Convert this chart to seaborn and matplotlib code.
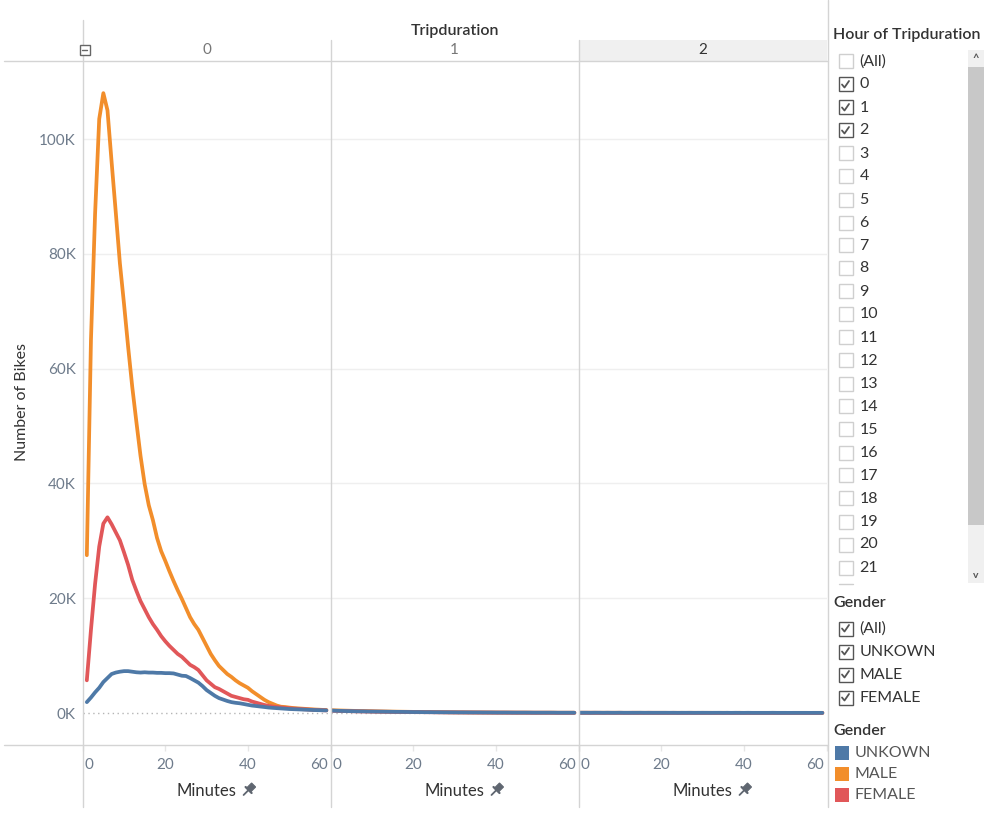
import matplotlib
matplotlib.use("Agg")
import matplotlib.pyplot as plt
import matplotlib.transforms as mtrans
from matplotlib.patches import Rectangle, Polygon
from matplotlib.lines import Line2D
import seaborn as sns
import pandas as pd

# ---------------- data (thousands of bikes) ----------------
hours = [0, 1, 2]
genders = ["UNKOWN", "MALE", "FEMALE"]
minutes_h0 = list(range(1, 60))
minutes_h12 = list(range(0, 60))

male_h0 = [27.5, 65, 87, 103.5, 108, 105, 96, 87.3, 78.4, 71.3, 63.8, 56.8, 50.7, 44.8, 39.9,
           36.2, 33.6, 30.5, 28.2, 26.5, 24.7, 23, 21.4, 19.9, 18.3, 16.7, 15.5, 14.5, 13.1, 11.7,
           10.3, 9.2, 8.2, 7.5, 6.8, 6.3, 5.7, 5.2, 4.8, 4.4, 3.8, 3.3, 2.8, 2.3, 1.9, 1.6, 1.3,
           1.1, 1.05, 0.95, 0.87, 0.82, 0.77, 0.72, 0.66, 0.62, 0.59, 0.55, 0.52]
female_h0 = [5.7, 14.5, 22.5, 29, 33, 34.1, 32.9, 31.5, 30.1, 28, 25.8, 23.2, 21.3, 19.5, 18.1,
             16.7, 15.5, 14.5, 13.4, 12.5, 11.7, 11, 10.3, 9.8, 9.1, 8.4, 8, 7.5, 6.6, 5.7, 5.1,
             4.5, 4.2, 3.8, 3.4, 3, 2.8, 2.6, 2.4, 2.3, 2, 1.8, 1.6, 1.4, 1.25, 1.13, 1.05, 0.98,
             0.9, 0.84, 0.78, 0.73, 0.68, 0.64, 0.6, 0.56, 0.52, 0.49, 0.46]
unknown_h0 = [1.9, 2.7, 3.6, 4.4, 5.4, 6.1, 6.8, 7.05, 7.2, 7.3, 7.3, 7.2, 7.1, 7.05, 7.1, 7.05,
              7.05, 7, 7, 6.95, 6.95, 6.9, 6.7, 6.5, 6.45, 6.1, 5.7, 5.3, 4.7, 4, 3.5, 3, 2.6,
              2.35, 2.1, 1.9, 1.78, 1.7, 1.57, 1.43, 1.3, 1.22, 1.13, 1.05, 0.96, 0.9, 0.85, 0.8,
              0.75, 0.7, 0.67, 0.64, 0.61, 0.58, 0.55, 0.52, 0.5, 0.48, 0.46]

male_h1 = [0.50, 0.47, 0.45, 0.43, 0.41, 0.39, 0.37, 0.35, 0.34, 0.32, 0.31, 0.29, 0.28, 0.27, 0.26,
           0.25, 0.24, 0.23, 0.22, 0.21, 0.20, 0.19, 0.18, 0.17, 0.17, 0.16, 0.15, 0.15, 0.14, 0.13,
           0.13, 0.12, 0.12, 0.11, 0.11, 0.10, 0.10, 0.10, 0.09, 0.09, 0.09, 0.08, 0.08, 0.08, 0.08,
           0.07, 0.07, 0.07, 0.07, 0.06, 0.06, 0.06, 0.06, 0.06, 0.06, 0.05, 0.05, 0.05, 0.05, 0.05]
female_h1 = [0.40, 0.38, 0.36, 0.34, 0.33, 0.31, 0.30, 0.28, 0.27, 0.26, 0.25, 0.24, 0.23, 0.22, 0.21,
             0.20, 0.19, 0.18, 0.18, 0.17, 0.16, 0.15, 0.15, 0.14, 0.14, 0.13, 0.12, 0.12, 0.11, 0.11,
             0.10, 0.10, 0.10, 0.09, 0.09, 0.09, 0.08, 0.08, 0.08, 0.07, 0.07, 0.07, 0.07, 0.06, 0.06,
             0.06, 0.06, 0.06, 0.05, 0.05, 0.05, 0.05, 0.05, 0.05, 0.04, 0.04, 0.04, 0.04, 0.04, 0.04]
unknown_h1 = [0.42, 0.40, 0.38, 0.36, 0.34, 0.33, 0.31, 0.30, 0.29, 0.27, 0.26, 0.25, 0.24, 0.23, 0.22,
              0.21, 0.20, 0.20, 0.19, 0.18, 0.17, 0.17, 0.16, 0.15, 0.15, 0.14, 0.14, 0.13, 0.13, 0.12,
              0.12, 0.11, 0.11, 0.11, 0.10, 0.10, 0.10, 0.09, 0.09, 0.09, 0.08, 0.08, 0.08, 0.08, 0.07,
              0.07, 0.07, 0.07, 0.07, 0.06, 0.06, 0.06, 0.06, 0.06, 0.06, 0.05, 0.05, 0.05, 0.05, 0.05]

male_h2 = [0.05, 0.05, 0.05, 0.05, 0.05, 0.04, 0.05, 0.04, 0.04, 0.05, 0.04, 0.04, 0.04, 0.04, 0.05,
           0.04, 0.04, 0.04, 0.04, 0.04, 0.04, 0.04, 0.03, 0.04, 0.04, 0.04, 0.03, 0.04, 0.04, 0.03,
           0.04, 0.03, 0.04, 0.03, 0.03, 0.04, 0.03, 0.03, 0.03, 0.04, 0.03, 0.03, 0.03, 0.03, 0.03,
           0.03, 0.03, 0.03, 0.03, 0.03, 0.03, 0.02, 0.03, 0.03, 0.03, 0.03, 0.02, 0.03, 0.03, 0.03]
female_h2 = [0.04, 0.04, 0.04, 0.04, 0.04, 0.04, 0.03, 0.04, 0.04, 0.03, 0.04, 0.03, 0.03, 0.04, 0.03,
             0.03, 0.03, 0.04, 0.03, 0.03, 0.03, 0.03, 0.03, 0.03, 0.03, 0.02, 0.03, 0.03, 0.03, 0.03,
             0.02, 0.03, 0.03, 0.02, 0.03, 0.02, 0.03, 0.02, 0.02, 0.03, 0.02, 0.02, 0.02, 0.02, 0.02,
             0.02, 0.02, 0.02, 0.02, 0.02, 0.02, 0.02, 0.02, 0.02, 0.02, 0.02, 0.02, 0.02, 0.02, 0.02]
unknown_h2 = [0.05, 0.05, 0.05, 0.04, 0.05, 0.05, 0.04, 0.05, 0.04, 0.04, 0.05, 0.04, 0.04, 0.04, 0.04,
              0.05, 0.04, 0.04, 0.04, 0.04, 0.04, 0.04, 0.04, 0.04, 0.03, 0.04, 0.04, 0.04, 0.03, 0.04,
              0.04, 0.04, 0.03, 0.04, 0.04, 0.03, 0.04, 0.03, 0.04, 0.03, 0.03, 0.04, 0.03, 0.03, 0.03,
              0.03, 0.03, 0.04, 0.03, 0.03, 0.03, 0.03, 0.03, 0.03, 0.03, 0.03, 0.03, 0.03, 0.03, 0.03]

y_ticks = [0, 20000, 40000, 60000, 80000, 100000]
y_tick_labels = ["0K", "20K", "40K", "60K", "80K", "100K"]
x_ticks = [0, 20, 40, 60]
x_tick_labels = ["0", "20", "40", "60"]
hour_filter = ["(All)"] + [str(i) for i in range(22)]
hour_checked = ["0", "1", "2"]
gender_filter = ["(All)", "UNKOWN", "MALE", "FEMALE"]

series = {
    (0, "MALE"): (minutes_h0, male_h0), (0, "FEMALE"): (minutes_h0, female_h0),
    (0, "UNKOWN"): (minutes_h0, unknown_h0),
    (1, "MALE"): (minutes_h12, male_h1), (1, "FEMALE"): (minutes_h12, female_h1),
    (1, "UNKOWN"): (minutes_h12, unknown_h1),
    (2, "MALE"): (minutes_h12, male_h2), (2, "FEMALE"): (minutes_h12, female_h2),
    (2, "UNKOWN"): (minutes_h12, unknown_h2),
}
rows = []
for (h, g), (mins, vals) in series.items():
    for m, v in zip(mins, vals):
        rows.append({"Hour": h, "Gender": g, "Minutes": m, "Bikes": v * 1000})
df = pd.DataFrame(rows)

palette = {"UNKOWN": "#4e79a7", "MALE": "#f28e2b", "FEMALE": "#e15759"}

# ---------------- figure ----------------
sns.set_theme(style="white")
plt.rcParams["font.family"] = ["Lato", "DejaVu Sans"]
W, H = 1005, 821
fig = plt.figure(figsize=(W / 100, H / 100), dpi=100)

def fx(x):
    return x / W

def fy(y):
    return 1 - y / H

def T(x, y, s, **kw):
    fig.text(fx(x), fy(y), s, **kw)

def hline(x0, x1, y, color="#d4d4d4", lw=1.0, **kw):
    fig.add_artist(Line2D([fx(x0), fx(x1)], [fy(y), fy(y)], color=color, lw=lw,
                          transform=fig.transFigure, **kw))

def vline(x, y0, y1, color="#d4d4d4", lw=1.0):
    fig.add_artist(Line2D([fx(x), fx(x)], [fy(y0), fy(y1)], color=color, lw=lw,
                          transform=fig.transFigure))

def rect(x, y, w, h, fc="none", ec="none", lw=1.0, z=1):
    fig.add_artist(Rectangle((fx(x), fy(y + h)), w / W, h / H, facecolor=fc, edgecolor=ec,
                             lw=lw, transform=fig.transFigure, zorder=z))

top, bottom = 61, 745
edges = [82.7, 330.5, 578.5, 826.5]
ymin, ymax = -5570, 113600
tick_col = "#6e7b8b"
FS = 11
FS_LIST = 11.5

# header background for selected column
rect(edges[2], 40, edges[3] - edges[2], top - 40, fc="#f0f0f0")

for i, h in enumerate(hours):
    x0, x1 = edges[i], edges[i + 1]
    ax = fig.add_axes([fx(x0), fy(bottom), (x1 - x0) / W, (bottom - top) / H])
    ax.set_facecolor("none")
    for yv in y_ticks[1:]:
        ax.axhline(yv, color="#efefef", lw=1, zorder=0)
    ax.axhline(0, color="#b5b5b5", lw=1, ls=(0, (1, 2.5)), zorder=0)
    sns.lineplot(data=df[df["Hour"] == h], x="Minutes", y="Bikes", hue="Gender",
                 hue_order=["MALE", "FEMALE", "UNKOWN"], palette=palette, linewidth=2.7,
                 legend=False, errorbar=None, ax=ax)
    ax.set_xlim(0, 60)
    ax.set_ylim(ymin, ymax)
    for s in ax.spines.values():
        s.set_visible(False)
    ax.set_xlabel("")
    ax.set_ylabel("")
    ax.set_yticks(y_ticks)
    if i == 0:
        ax.set_yticklabels(y_tick_labels)
        ax.tick_params(axis="y", length=0, pad=5, labelsize=FS, labelcolor=tick_col)
    else:
        ax.tick_params(axis="y", left=False, labelleft=False)
    ax.set_xticks(x_ticks)
    ax.set_xticklabels(x_tick_labels)
    ax.tick_params(axis="x", bottom=True, direction="out", length=4, width=1, color="#e6e6e6",
                   pad=5, labelsize=FS, labelcolor=tick_col)
    labs = ax.get_xticklabels()
    labs[0].set_ha("left")
    labs[0].set_transform(labs[0].get_transform()
                          + mtrans.ScaledTranslation(2 / 100, 0, fig.dpi_scale_trans))
    labs[-1].set_ha("right")
    labs[-1].set_transform(labs[-1].get_transform()
                           + mtrans.ScaledTranslation(-3 / 100, 0, fig.dpi_scale_trans))
    cx = (x0 + x1) / 2
    T(cx, 790.5, "Minutes", ha="center", va="center", fontsize=12, color="#333333")
    # pin icon
    px, py = cx + 42, 790
    fig.add_artist(Line2D([fx(px - 5), fx(px)], [fy(py + 5), fy(py)], color="#5f6670", lw=1.3,
                          transform=fig.transFigure))
    fig.add_artist(Polygon([(fx(px - 2), fy(py - 2)), (fx(px + 3), fy(py - 7)),
                            (fx(px + 7), fy(py - 3)), (fx(px + 2), fy(py + 2))],
                           closed=True, fc="#5f6670", ec="#5f6670", lw=0.8,
                           transform=fig.transFigure))
    fig.add_artist(Line2D([fx(px - 3), fx(px + 3)], [fy(py - 3), fy(py + 3)], color="#5f6670",
                          lw=1.6, transform=fig.transFigure))
    # column header
    T(cx, 50.5, str(h), ha="center", va="center", fontsize=FS,
      color="#333333" if h == 2 else "#777777")

# frame lines
hline(4, 828, top)
hline(4, 828, bottom)
vline(edges[0], 20, 807)
vline(edges[1], 40, 807)
vline(edges[2], 40, 807)
vline(827.5, 0, 807)

# collapse box
rect(79.5, 45.5, 10, 10, fc="white", ec="#666666", lw=1, z=3)
hline(82, 87, 50.5, color="#666666", lw=1, zorder=4)

T(455, 30.5, "Tripduration", ha="center", va="center", fontsize=11.5, color="#333333",
  fontweight="semibold")
T(22, 402, "Number of Bikes", ha="center", va="center", rotation=90, fontsize=11.5,
  color="#333333")

# ---------------- right side panel ----------------
def checkbox(x, y, checked):
    rect(x, y - 7, 14, 14, fc="white", ec="#555555" if checked else "#cfcfcf", lw=1, z=3)
    if checked:
        fig.add_artist(Line2D([fx(x + 3.5), fx(x + 6), fx(x + 10.5)],
                              [fy(y), fy(y + 3), fy(y - 3.5)], color="#555555", lw=1.3,
                              transform=fig.transFigure, zorder=4))

T(833, 34.5, "Hour of Tripduration", ha="left", va="center", fontsize=11.5, color="#333333",
  fontweight="semibold")
for k, lab in enumerate(hour_filter):
    yy = 61.5 + 23 * k
    checkbox(838.5, yy, lab in hour_checked)
    T(859.5, yy, lab, ha="left", va="center", fontsize=FS_LIST, color="#333333")
hline(838.5, 852.5, 584, color="#cfcfcf")
# scrollbar
rect(968, 50, 15.5, 533, fc="#f0f0f0", z=2)
rect(968, 67, 15.5, 458, fc="#c8c8c8", z=2)
T(975.7, 58, "^", ha="center", va="center", fontsize=8, color="#555555", fontweight="bold")
T(975.7, 575, "v", ha="center", va="center", fontsize=7.5, color="#555555", fontweight="bold")

T(833, 602.5, "Gender", ha="left", va="center", fontsize=11.5, color="#333333",
  fontweight="semibold")
for k, lab in enumerate(gender_filter):
    yy = 628.5 + 23 * k
    checkbox(838.5, yy, True)
    T(859.5, yy, lab, ha="left", va="center", fontsize=FS_LIST, color="#333333")

T(833, 730.5, "Gender", ha="left", va="center", fontsize=11.5, color="#333333",
  fontweight="semibold")
for k, g in enumerate(genders):
    yy = 752.5 + 21 * k
    rect(835, yy - 7, 14, 14, fc=palette[g], z=3)
    T(854.5, yy, g, ha="left", va="center", fontsize=FS_LIST, color="#555555")

fig.savefig("out.png", dpi=100)
